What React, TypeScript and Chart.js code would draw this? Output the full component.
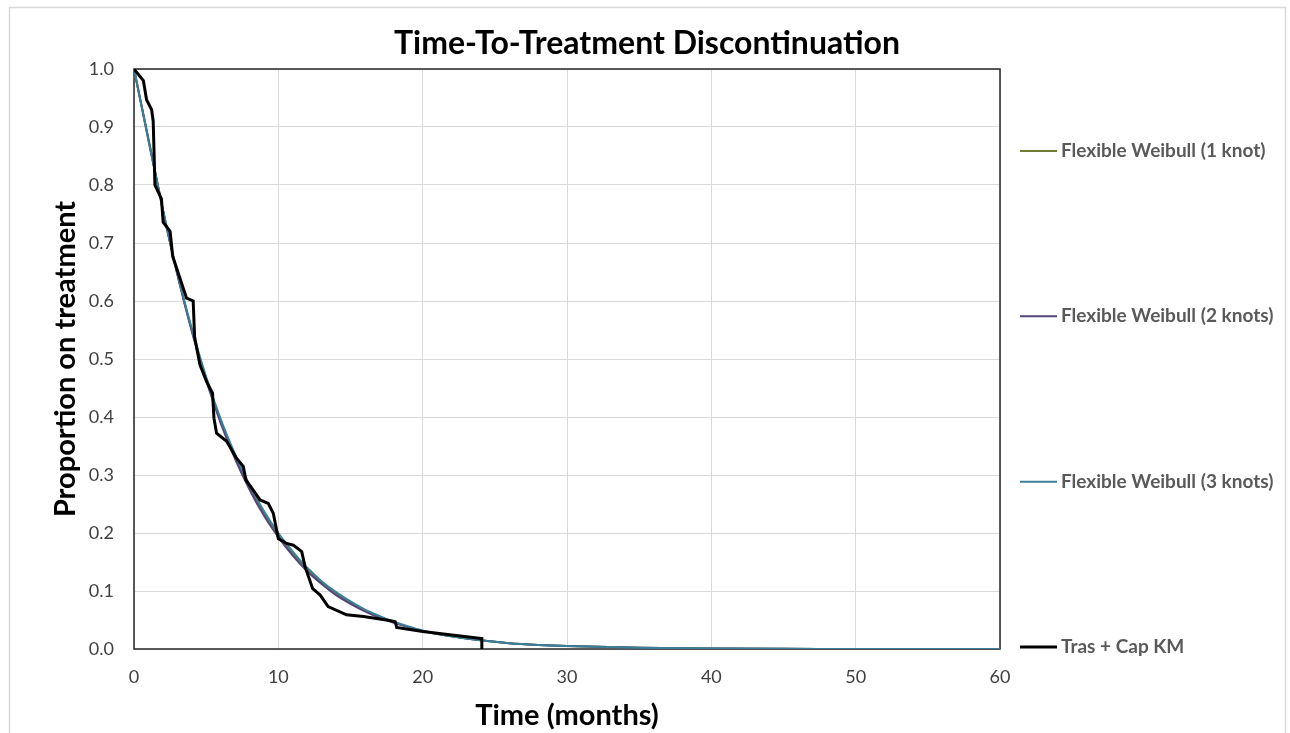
import React, { useEffect, useRef } from "react";
import { Chart, registerables } from "chart.js";
Chart.register(...registerables);

const chartTitle = "Time-To-Treatment Discontinuation";
const xAxisTitle = "Time (months)";
const yAxisTitle = "Proportion on treatment";

const fitTimes = [0, 1, 2, 3, 4, 5, 6, 7, 8, 9, 10, 11, 12, 13, 14, 15, 16, 17, 18, 19, 20, 22, 24, 26, 28, 30, 35, 40, 45, 50, 55, 60];
const weibull1Knot = [1.0, 0.878, 0.757, 0.647, 0.55, 0.466, 0.393, 0.331, 0.278, 0.233, 0.196, 0.164, 0.137, 0.114, 0.095, 0.08, 0.066, 0.055, 0.046, 0.038, 0.031, 0.022, 0.015, 0.01, 0.007, 0.005, 0.002, 0.0008, 0.0003, 0.0001, 0.0, 0.0];
const weibull2Knots = [1.0, 0.88, 0.758, 0.646, 0.548, 0.463, 0.39, 0.328, 0.275, 0.23, 0.193, 0.161, 0.134, 0.112, 0.093, 0.078, 0.065, 0.054, 0.045, 0.038, 0.031, 0.022, 0.015, 0.01, 0.007, 0.005, 0.002, 0.0008, 0.0003, 0.0001, 0.0, 0.0];
const weibull3Knots = [1.0, 0.877, 0.757, 0.648, 0.553, 0.469, 0.397, 0.336, 0.283, 0.238, 0.2, 0.168, 0.14, 0.117, 0.098, 0.082, 0.068, 0.057, 0.047, 0.039, 0.032, 0.022, 0.015, 0.01, 0.007, 0.005, 0.002, 0.001, 0.0003, 0.0001, 0.0, 0.0];

const kmTimes = [0, 0.65, 0.87, 1.22, 1.33, 1.45, 1.9, 2.02, 2.5, 2.68, 3.07, 3.64, 4.1, 4.2, 4.57, 5.03, 5.44, 5.54, 5.72, 6.42, 7.1, 7.57, 7.76, 8.26, 8.73, 9.3, 9.65, 10.0, 10.58, 11.04, 11.62, 11.85, 12.38, 12.9, 13.45, 14.73, 15.9, 17.7, 18.1, 18.2, 20.0, 24.1, 24.1];
const kmSurvival = [1.0, 0.98, 0.947, 0.93, 0.91, 0.8, 0.776, 0.736, 0.72, 0.677, 0.648, 0.605, 0.6, 0.538, 0.49, 0.461, 0.441, 0.398, 0.372, 0.358, 0.329, 0.315, 0.291, 0.274, 0.257, 0.251, 0.234, 0.19, 0.182, 0.179, 0.168, 0.142, 0.104, 0.093, 0.073, 0.059, 0.056, 0.049, 0.047, 0.037, 0.03, 0.018, 0.0];

const seriesNames = ["Flexible Weibull (1 knot)", "Flexible Weibull (2 knots)", "Flexible Weibull (3 knots)", "Tras + Cap KM"];
const seriesColors = ["#6f7c38", "#54467a", "#3a7f98", "#000000"];

const xMin = 0, xMax = 60, xStep = 10;
const yMin = 0, yMax = 1, yStep = 0.1;

const FONT = "Lato, 'Open Sans', sans-serif";

const decorPlugin = {
  id: "decor",
  beforeDraw(chart: any) {
    const { ctx, width } = chart;
    ctx.save();
    ctx.fillStyle = "#ffffff";
    ctx.fillRect(0, 0, width, chart.height);
    ctx.strokeStyle = "#d9d9d9";
    ctx.lineWidth = 1.5;
    ctx.strokeRect(9.5, 7.5, 1276, 900);
    ctx.restore();
  },
  beforeDatasetsDraw(chart: any) {
    const { ctx, chartArea: a } = chart;
    ctx.save();
    ctx.strokeStyle = "#262626";
    ctx.lineWidth = 1.5;
    ctx.strokeRect(a.left, a.top, a.right - a.left, a.bottom - a.top);
    ctx.restore();
  },
  afterDraw(chart: any) {
    const { ctx, chartArea: a, width } = chart;
    ctx.save();
    ctx.fillStyle = "#000000";
    ctx.textAlign = "center";
    ctx.textBaseline = "middle";
    ctx.font = `bold 32px ${FONT}`;
    ctx.fillText(chartTitle, width / 2 + 2, 44);
    ctx.font = `bold 29px ${FONT}`;
    ctx.fillText(xAxisTitle, (a.left + a.right) / 2, 716);
    ctx.save();
    ctx.translate(66, (a.top + a.bottom) / 2);
    ctx.rotate(-Math.PI / 2);
    ctx.fillText(yAxisTitle, 0, 0);
    ctx.restore();

    // legend, distributed vertically on the right
    const firstY = 151, lastY = 647;
    ctx.font = `bold 19px ${FONT}`;
    ctx.textAlign = "left";
    seriesNames.forEach((name, i) => {
      const y = firstY + ((lastY - firstY) * i) / (seriesNames.length - 1);
      ctx.strokeStyle = seriesColors[i];
      ctx.lineWidth = i === 3 ? 3 : 2;
      ctx.beginPath();
      ctx.moveTo(1020, y);
      ctx.lineTo(1057, y);
      ctx.stroke();
      ctx.fillStyle = "#595959";
      ctx.fillText(name, 1061, y);
    });
    ctx.restore();
  },
};

export default function App() {
  const canvasRef = useRef<HTMLCanvasElement>(null);

  useEffect(() => {
    if (!canvasRef.current) return;
    const fitSeries = [weibull1Knot, weibull2Knots, weibull3Knots];
    const datasets: any[] = fitSeries.map((vals, i) => ({
      label: seriesNames[i],
      data: fitTimes.map((t, j) => ({ x: t, y: vals[j] })),
      borderColor: seriesColors[i],
      borderWidth: 2,
      pointRadius: 0,
      cubicInterpolationMode: "monotone",
      fill: false,
      order: 3 - i,
    }));
    datasets.push({
      label: seriesNames[3],
      data: kmTimes.map((t, j) => ({ x: t, y: kmSurvival[j] })),
      borderColor: seriesColors[3],
      borderWidth: 3,
      pointRadius: 0,
      tension: 0,
      fill: false,
      order: 0,
    });

    const chart = new Chart(canvasRef.current, {
      type: "line",
      data: { datasets },
      options: {
        animation: false,
        responsive: true,
        maintainAspectRatio: false,
        layout: { padding: { left: 0, top: 69, right: 290, bottom: 0 } },
        plugins: { legend: { display: false }, title: { display: false }, tooltip: { enabled: false } },
        scales: {
          x: {
            type: "linear",
            min: xMin,
            max: xMax,
            afterFit: (s: any) => { s.height = 84; },
            ticks: { stepSize: xStep, padding: 17, color: "#404040", font: { family: FONT, size: 18 } },
            grid: { color: "#d9d9d9", lineWidth: 1, drawTicks: false },
            border: { display: false },
          },
          y: {
            type: "linear",
            min: yMin,
            max: yMax,
            afterFit: (s: any) => { s.width = 134; },
            ticks: { stepSize: yStep, padding: 20, color: "#404040", font: { family: FONT, size: 18 }, callback: (v: any) => Number(v).toFixed(1) },
            grid: { color: "#d9d9d9", lineWidth: 1, drawTicks: false },
            border: { display: false },
          },
        },
      },
      plugins: [decorPlugin],
    });
    return () => chart.destroy();
  }, []);

  return (
    <div style={{ position: "fixed", left: 0, top: 0, width: 1290, height: 733, background: "#fff" }}>
      <canvas ref={canvasRef} />
    </div>
  );
}
